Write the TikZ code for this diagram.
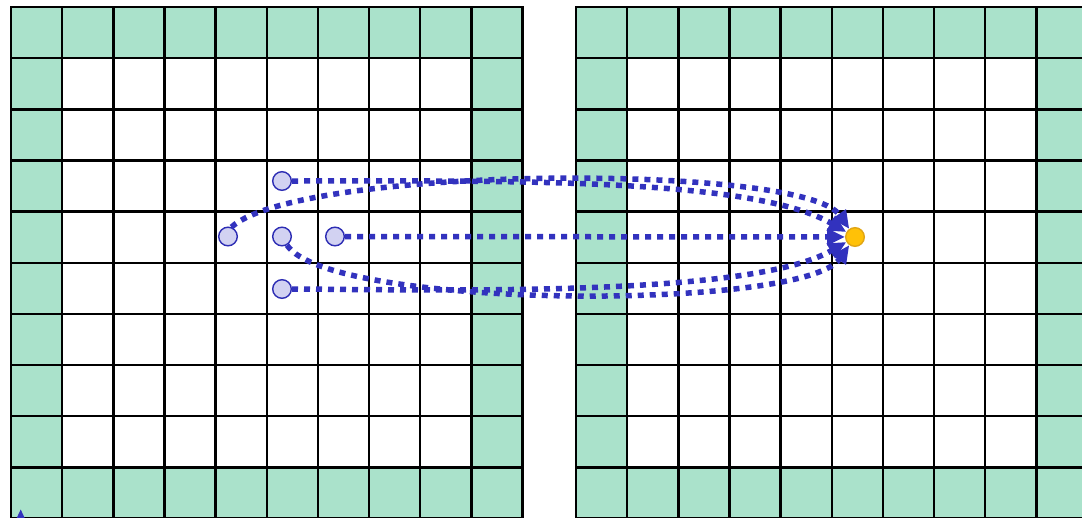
\documentclass[tikz,border=0pt]{standalone}
\usetikzlibrary{arrows.meta}
\definecolor{mint}{RGB}{170,226,203}
\definecolor{pathblue}{RGB}{50,50,190}
\definecolor{dotfill}{RGB}{210,210,242}
\definecolor{dotline}{RGB}{45,45,180}
\definecolor{gold}{RGB}{255,193,7}
\definecolor{goldline}{RGB}{225,165,20}
\tikzset{
  gridline/.style={line width=2.4pt, black, line cap=rect},
  src/.style={circle, draw=dotline, fill=dotfill, line width=1.4pt, minimum size=18.6pt, inner sep=0pt},
  goal/.style={circle, draw=goldline, fill=gold, line width=1.4pt, minimum size=18.6pt, inner sep=0pt},
  flow/.style={pathblue, line width=5.5pt, dash pattern=on 6pt off 6pt, -{Triangle[length=18pt,width=16pt]}},
}
\begin{document}
\begin{tikzpicture}[x=1pt,y=-1pt]
\useasboundingbox (0,0) rectangle (1082,517);
\clip (0,0) rectangle (1082,517);
\def\cs{51.15}
\foreach \ox in {11,576}{
  \fill[mint] (\ox,7) rectangle ++(10*\cs,10*\cs);
  \fill[white] (\ox+\cs,7+\cs) rectangle ++(8*\cs,8*\cs);
  \foreach \k in {0,...,10}{
    \draw[gridline] (\ox+\k*\cs,7) -- ++(0,10*\cs);
    \draw[gridline] (\ox,7+\k*\cs) -- ++(10*\cs,0);
  }
}
\node[src] (a) at (282,181) {};
\node[src] (b) at (228,236.5) {};
\node[src] (c) at (282,236.5) {};
\node[src] (d) at (335,236.5) {};
\node[src] (e) at (282,289) {};
\node[goal] (t) at (855,237) {};
\draw[flow] (d) -- (t);
\draw[flow] (a.east) .. controls (500,181) and (751,177) .. (t);
\draw[flow] (b.70) .. controls (300,165) and (803,163) .. (t);
\draw[flow] (e.east) .. controls (450,290) and (751,297) .. (t);
\draw[flow] (c.-60) .. controls (330,310) and (803,311) .. (t);
\fill[pathblue] (20.7,509.5) -- (28.2,525.5) -- (13.2,525.5) -- cycle;
\end{tikzpicture}
\end{document}
